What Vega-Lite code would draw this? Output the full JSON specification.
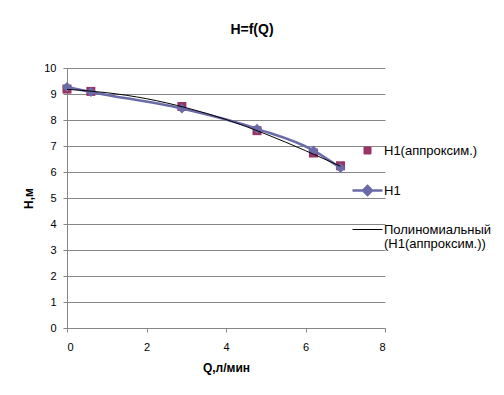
{
  "$schema": "https://vega.github.io/schema/vega-lite/v6.json",
  "width": 318,
  "height": 260,
  "autosize": {"type": "none"},
  "padding": {"left": 67, "top": 68, "right": 119, "bottom": 67},
  "background": "white",
  "title": {"text": "H=f(Q)", "fontSize": 14, "font": "Liberation Sans", "fontWeight": "bold", "color": "#000000", "anchor": "middle", "dx": 26, "offset": 25},
  "config": {
    "view": {"stroke": null},
    "font": "Liberation Sans",
    "axis": {"domainColor": "#868686", "tickColor": "#868686", "gridColor": "#868686", "labelColor": "#000000", "titleColor": "#000000", "labelFontSize": 11, "titleFontSize": 12, "titleFontWeight": "bold", "labelFont": "Liberation Sans", "titleFont": "Liberation Sans"}
  },
  "data": {"values": [
    {"series": "Н1(аппроксим.)", "Q": 0, "H": 9.19},
    {"series": "Н1(аппроксим.)", "Q": 0.6, "H": 9.1},
    {"series": "Н1(аппроксим.)", "Q": 2.89, "H": 8.52},
    {"series": "Н1(аппроксим.)", "Q": 4.78, "H": 7.59},
    {"series": "Н1(аппроксим.)", "Q": 6.2, "H": 6.73},
    {"series": "Н1(аппроксим.)", "Q": 6.88, "H": 6.24},
    {"series": "Н1", "Q": 0, "H": 9.27},
    {"series": "Н1", "Q": 0.6, "H": 9.08},
    {"series": "Н1", "Q": 2.89, "H": 8.44},
    {"series": "Н1", "Q": 4.78, "H": 7.66},
    {"series": "Н1", "Q": 6.2, "H": 6.83},
    {"series": "Н1", "Q": 6.88, "H": 6.15},
    {"series": "Полиномиальный (Н1(аппроксим.))", "Q": 0, "H": 9.18},
    {"series": "Полиномиальный (Н1(аппроксим.))", "Q": 1, "H": 9.05},
    {"series": "Полиномиальный (Н1(аппроксим.))", "Q": 2, "H": 8.82},
    {"series": "Полиномиальный (Н1(аппроксим.))", "Q": 3, "H": 8.47},
    {"series": "Полиномиальный (Н1(аппроксим.))", "Q": 4, "H": 8.02},
    {"series": "Полиномиальный (Н1(аппроксим.))", "Q": 5, "H": 7.46},
    {"series": "Полиномиальный (Н1(аппроксим.))", "Q": 6, "H": 6.82},
    {"series": "Полиномиальный (Н1(аппроксим.))", "Q": 6.88, "H": 6.22}
  ]},
  "encoding": {
    "x": {"field": "Q", "type": "quantitative", "title": "Q,л/мин",
      "scale": {"domain": [0, 8], "nice": false},
      "axis": {"values": [0, 2, 4, 6, 8], "grid": false, "tickSize": 4, "labelPadding": 9, "titlePadding": 10}},
    "y": {"field": "H", "type": "quantitative", "title": "Н,м",
      "scale": {"domain": [0, 10], "nice": false},
      "axis": {"values": [0, 1, 2, 3, 4, 5, 6, 7, 8, 9, 10], "grid": true, "tickSize": 4, "labelPadding": 7, "titlePadding": 8}},
    "color": {"field": "series", "type": "nominal",
      "scale": {"domain": ["Н1(аппроксим.)", "Н1", "Полиномиальный (Н1(аппроксим.))"], "range": ["#993366", "#6B6BAA", "#000000"]},
      "legend": {
        "title": null, "orient": "none", "legendX": 294, "legendY": 76, "padding": 0,
        "rowPadding": 23, "labelOffset": 10, "labelFontSize": 13, "labelColor": "#000000", "labelLimit": 200, "labelFont": "Liberation Sans",
        "labelExpr": "datum.label === 'Полиномиальный (Н1(аппроксим.))' ? ['Полиномиальный', '(Н1(аппроксим.))'] : datum.label",
        "encode": {
          "symbols": {"update": {
            "shape": {"signal": "datum.value === 'Н1(аппроксим.)' ? 'square' : datum.value === 'Н1' ? 'M-1,0L1,0M0,-0.3L0.3,0L0,0.3L-0.3,0Z' : 'M-1,0L1,0'"},
            "size": {"signal": "datum.value === 'Н1(аппроксим.)' ? 49 : 900"},
            "fill": {"signal": "datum.value === 'Н1(аппроксим.)' ? '#993366' : datum.value === 'Н1' ? '#6B6BAA' : 'transparent'"},
            "stroke": {"signal": "datum.value === 'Н1(аппроксим.)' ? 'transparent' : datum.value === 'Н1' ? '#6B6BAA' : '#000000'"},
            "strokeWidth": {"signal": "datum.value === 'Н1' ? 2.5 : 1"},
            "opacity": {"value": 1}
          }},
          "labels": {"update": {
            "lineHeight": {"value": 14}
          }}
        }
      }}
  },
  "layer": [
    {"transform": [{"filter": "datum.series === 'Н1(аппроксим.)'"}],
     "mark": {"type": "point", "shape": "square", "filled": true, "size": 81, "opacity": 1}},
    {"transform": [{"filter": "datum.series === 'Н1'"}],
     "mark": {"type": "line", "strokeWidth": 2.5, "interpolate": "monotone"}},
    {"transform": [{"filter": "datum.series === 'Н1'"}],
     "mark": {"type": "point", "shape": "diamond", "filled": true, "size": 100, "opacity": 1}},
    {"transform": [{"filter": "datum.series === 'Полиномиальный (Н1(аппроксим.))'"}],
     "mark": {"type": "line", "strokeWidth": 1, "interpolate": "monotone"}}
  ]
}
